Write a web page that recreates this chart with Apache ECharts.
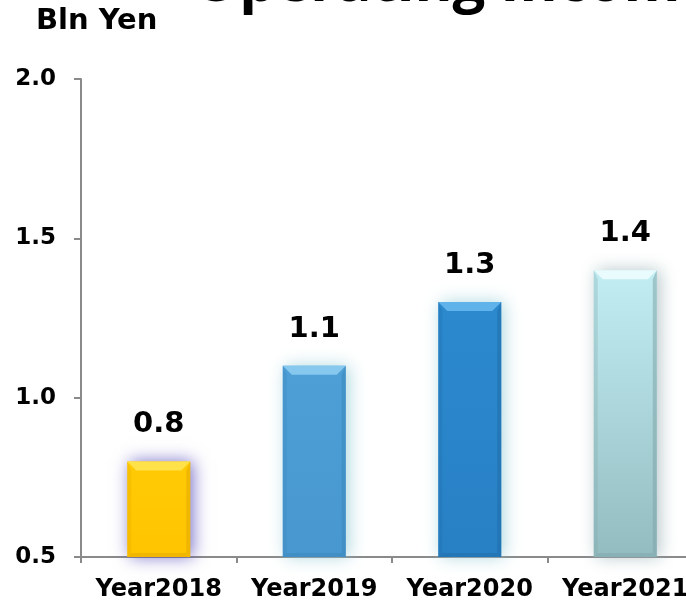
<!DOCTYPE html>
<html>
<head>
<meta charset="utf-8">
<style>
  html, body { margin: 0; padding: 0; background: #ffffff; }
  #chart { width: 686px; height: 605px; }
</style>
<script src="https://cdn.jsdelivr.net/npm/echarts@6/dist/echarts.min.js"></script>
</head>
<body>
<div id="chart"></div>
<script>
// Operating income by fiscal year (billion yen)
const categories = ['Year2018', 'Year2019', 'Year2020', 'Year2021'];
const incomeValues = [0.8, 1.1, 1.3, 1.4];
const yTicks = [0.5, 1.0, 1.5, 2.0];

// Per-bar look: face colour (top/bottom), bevel highlight and glow
const barFaces = [
  { top: '#FFCB05', bottom: '#FFC400', bevel: '#FFE24A', edge: '#E3A900', glow: 'rgba(80,70,185,0.75)' },
  { top: '#4D9FD6', bottom: '#4898CF', bevel: '#86C8EE', edge: '#3A86BC', glow: 'rgba(140,200,210,0.7)' },
  { top: '#2C89CE', bottom: '#2880C4', bevel: '#5FB2EA', edge: '#1F6EAA', glow: 'rgba(140,200,210,0.7)' },
  { top: '#C2EEF3', bottom: '#93BCC0', bevel: '#EAFBFD', edge: '#7FA6AA', glow: 'rgba(150,175,180,0.7)' }
];

const chart = echarts.init(document.getElementById('chart'), null, { renderer: 'canvas' });

const BAR_W = 63;

chart.setOption({
  animation: false,
  backgroundColor: '#ffffff',
  title: {
    text: 'Operating Income',
    left: 188,
    top: -50,
    textStyle: {
      fontFamily: 'Open Sans',
      fontWeight: 'bold',
      fontSize: 58,
      color: '#000000'
    }
  },
  graphic: [{
    type: 'text',
    left: 36,
    top: 7,
    style: {
      text: 'Bln Yen',
      fontFamily: 'DejaVu Sans',
      fontWeight: 'bold',
      fontSize: 29,
      fill: '#000000'
    }
  }],
  grid: {
    left: 81,
    top: 79,
    bottom: 48,
    width: 622,
    containLabel: false,
    outerBoundsMode: 'none'
  },
  xAxis: {
    type: 'category',
    data: categories,
    boundaryGap: true,
    axisLine: { lineStyle: { color: '#8a8a8a', width: 2 } },
    axisTick: { show: true, interval: 0, length: 6, alignWithLabel: false, lineStyle: { color: '#8a8a8a', width: 2 } },
    axisLabel: {
      interval: 0,
      margin: 21,
      color: '#000000',
      fontFamily: 'DejaVu Sans',
      fontWeight: 'bold',
      fontSize: 24
    },
    splitLine: { show: false }
  },
  yAxis: {
    type: 'value',
    min: yTicks[0],
    max: yTicks[yTicks.length - 1],
    interval: 0.5,
    axisLine: { show: true, lineStyle: { color: '#8a8a8a', width: 2 } },
    axisTick: { show: true, length: 7, lineStyle: { color: '#8a8a8a', width: 2 } },
    axisLabel: {
      margin: 25,
      color: '#000000',
      fontFamily: 'DejaVu Sans',
      fontWeight: 'bold',
      fontSize: 23,
      formatter: v => v.toFixed(1)
    },
    splitLine: { show: false }
  },
  series: [
    {
      type: 'bar',
      barWidth: BAR_W,
      data: incomeValues.map((v, i) => ({
        value: v,
        itemStyle: {
          color: new echarts.graphic.LinearGradient(0, 0, 0, 1, [
            { offset: 0, color: barFaces[i].top },
            { offset: 1, color: barFaces[i].bottom }
          ]),
          shadowColor: barFaces[i].glow,
          shadowBlur: 16,
          shadowOffsetX: 3,
          shadowOffsetY: 0
        }
      })),
      label: {
        show: true,
        position: 'top',
        distance: 22,
        color: '#000000',
        fontFamily: 'DejaVu Sans',
        fontWeight: 'bold',
        fontSize: 29,
        formatter: p => p.value.toFixed(1)
      },
      z: 2
    },
    {
      // bevel highlights drawn on top of each bar
      type: 'custom',
      z: 3,
      silent: true,
      data: incomeValues.map((v, i) => [i, v]),
      renderItem: function (params, api) {
        const idx = api.value(0);
        const top = api.coord([idx, api.value(1)]);
        const base = api.coord([idx, yTicks[0]]);
        const face = barFaces[idx];
        const x0 = top[0] - BAR_W / 2;
        const x1 = top[0] + BAR_W / 2;
        const y0 = top[1];
        const y1 = base[1];
        const b = 9;
        const s = 4;
        return {
          type: 'group',
          children: [
            {
              type: 'polygon',
              shape: { points: [[x0, y0], [x1, y0], [x1 - b, y0 + b], [x0 + b, y0 + b]] },
              style: { fill: face.bevel }
            },
            {
              type: 'polygon',
              shape: { points: [[x1, y0], [x1, y1], [x1 - s, y1 - s], [x1 - s, y0 + b]] },
              style: { fill: face.edge, opacity: 0.55 }
            },
            {
              type: 'polygon',
              shape: { points: [[x0, y0], [x0 + s, y0 + b], [x0 + s, y1 - s], [x0, y1]] },
              style: { fill: face.edge, opacity: 0.3 }
            },
            {
              type: 'polygon',
              shape: { points: [[x0, y1], [x0 + s, y1 - s], [x1 - s, y1 - s], [x1, y1]] },
              style: { fill: face.edge, opacity: 0.5 }
            }
          ]
        };
      }
    }
  ]
});
</script>
</body>
</html>
